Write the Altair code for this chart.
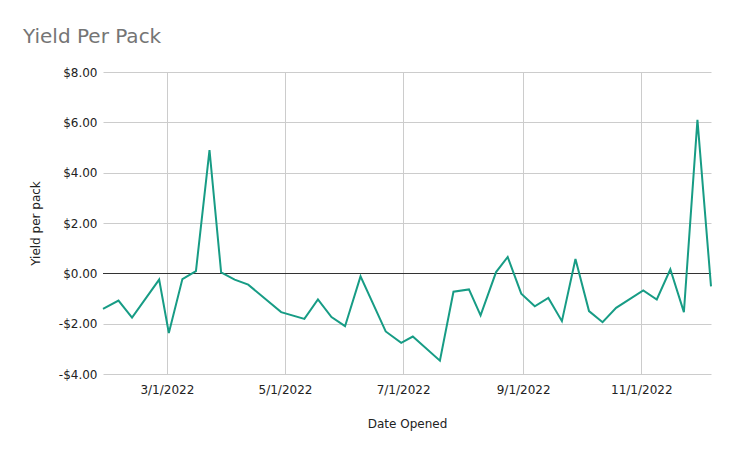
import altair as alt
import pandas as pd

dates = [
    "2022-01-27", "2022-02-04", "2022-02-11", "2022-02-25", "2022-03-02",
    "2022-03-09", "2022-03-16", "2022-03-23", "2022-03-29", "2022-04-05",
    "2022-04-12", "2022-04-29", "2022-05-11", "2022-05-18", "2022-05-25",
    "2022-06-01", "2022-06-09", "2022-06-22", "2022-06-30", "2022-07-06",
    "2022-07-20", "2022-07-27", "2022-08-04", "2022-08-10", "2022-08-18",
    "2022-08-24", "2022-08-31", "2022-09-07", "2022-09-14", "2022-09-21",
    "2022-09-28", "2022-10-05", "2022-10-12", "2022-10-19", "2022-11-02",
    "2022-11-09", "2022-11-16", "2022-11-23", "2022-11-30", "2022-12-07",
]
yields = [
    -1.41, -1.08, -1.76, -0.25, -2.37,
    -0.23, 0.09, 4.9, 0.04, -0.25,
    -0.45, -1.54, -1.81, -1.04, -1.74,
    -2.1, -0.12, -2.31, -2.76, -2.51,
    -3.47, -0.73, -0.64, -1.67, 0.05,
    0.65, -0.81, -1.31, -0.98, -1.9,
    0.57, -1.5, -1.94, -1.37, -0.68,
    -1.04, 0.16, -1.54, 6.1, -0.52,
]
y_ticks = [-4, -2, 0, 2, 4, 6, 8]
x_ticks = [(2022, 3, 1), (2022, 5, 1), (2022, 7, 1), (2022, 9, 1), (2022, 11, 1)]

df = pd.DataFrame({"date": [d + "T00:00:00" for d in dates], "yield": yields})

FONT = "DejaVu Sans"

x_enc = alt.X(
    "date:T",
    title="Date Opened",
    axis=alt.Axis(
        values=[alt.DateTime(year=y, month=m, date=d) for (y, m, d) in x_ticks],
        format="%-m/%-d/%Y",
        labelPadding=19,
        labelBaseline="alphabetic",
        titleBaseline="alphabetic",
        titleY=53,
    ),
)

y_enc = alt.Y(
    "yield:Q",
    title="Yield per pack",
    scale=alt.Scale(domain=[-4, 8], nice=False),
    axis=alt.Axis(
        values=y_ticks,
        labelExpr="datum.value < 0 ? '-$' + format(-datum.value, '.2f') : '$' + format(datum.value, '.2f')",
        labelPadding=6,
        labelBaseline="middle",
        titleAngle=-90,
        titleAlign="center",
        titleBaseline="alphabetic",
        titleX=-64,
        titleY=151,
    ),
)

line = alt.Chart(df).mark_line(color="#179c85", strokeWidth=2).encode(x=x_enc, y=y_enc)
zero = alt.Chart(df).mark_rule(color="#333333", strokeWidth=1, yOffset=0.17).encode(y=alt.datum(0))

chart = (
    alt.layer(zero, line)
    .properties(
        width=608,
        height=302,
        autosize="none",
        background="white",
        padding={"left": 95, "top": 64, "right": 15, "bottom": 71},
        title=alt.TitleParams(
            "Yield Per Pack",
            anchor="start",
            frame="group",
            font=FONT,
            fontSize=20,
            fontWeight="normal",
            color="#757575",
            baseline="alphabetic",
            dx=-80,
            offset=3,
        ),
    )
    .configure_axis(
        grid=True,
        gridColor="#cccccc",
        domain=False,
        ticks=False,
        tickSize=0,
        labelFont=FONT,
        labelFontSize=12,
        labelColor="#222222",
        titleFont=FONT,
        titleFontSize=12,
        titleFontWeight="normal",
        titleColor="#222222",
    )
    .configure_view(strokeWidth=0, stroke="transparent")
)

chart.save("out.html", embed_options={"renderer": "svg", "actions": False})
